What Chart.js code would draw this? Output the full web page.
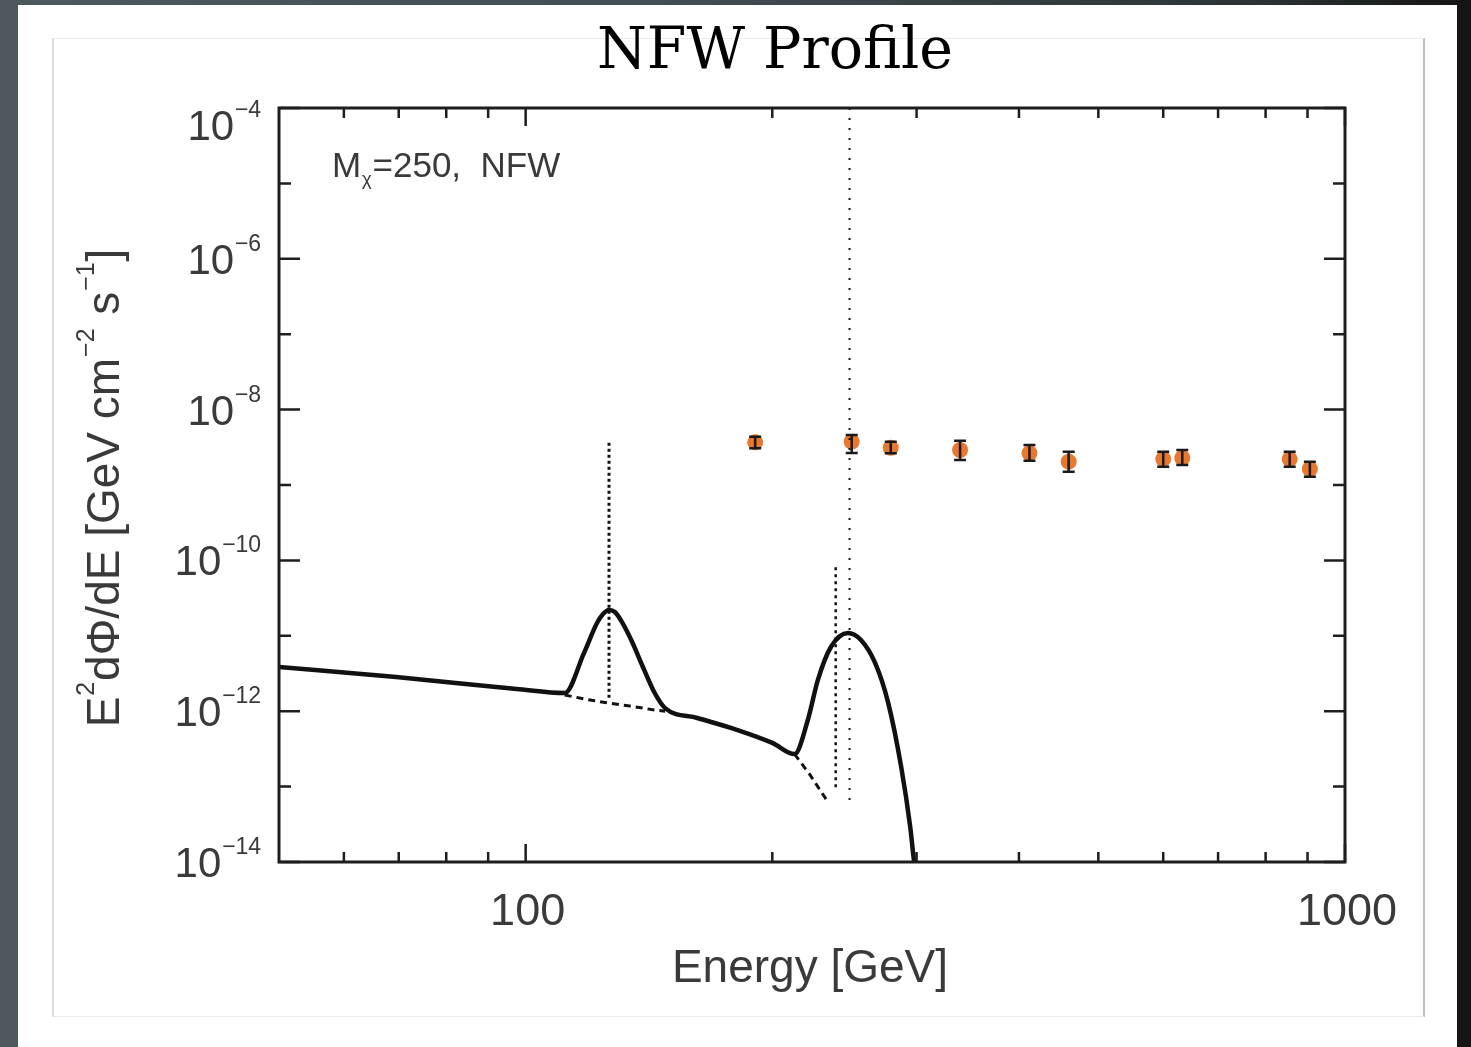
<!DOCTYPE html>
<html>
<head>
<meta charset="utf-8">
<script src="https://cdn.jsdelivr.net/npm/chart.js@4/dist/chart.umd.min.js"></script>
<style>
  html,body{margin:0;padding:0;}
  body{width:1471px;height:1047px;overflow:hidden;position:relative;
       background:linear-gradient(90deg,#4d595d 0%,#434e52 45%,#2d3335 85%,#141414 100%);}
  #panel{position:absolute;left:18px;top:5px;width:1439px;height:1042px;background:#ffffff;}
  #frame{position:absolute;left:52px;top:38px;width:1369px;height:977px;
         border-top:1px solid #ececec;border-bottom:1px solid #ececec;
         border-left:2px solid #dcdcdc;border-right:2px solid #bcbcbc;}
  canvas{position:absolute;left:0;top:0;}
</style>
</head>
<body>
<div id="panel"></div>
<div id="frame"></div>
<canvas id="c" width="1471" height="1047"></canvas>
<script>
// ---------------- data ----------------
const chartTitle = "NFW Profile";
const xRange = [50, 1000];
const yRange = [1e-14, 1e-4];

// total spectrum (solid thick line)
const totalE = [50, 69.5, 97.5, 111.6, 117.8, 122.2, 124.3, 126.4, 128.5, 131.1, 134.9, 138.7, 143.5, 148, 162, 181.4, 200, 212.9, 221.0, 227.3, 235.8, 247.4, 256.6, 267.0, 277.0, 287.3, 294.7, 298.0, 301];
const totalF = [3.86e-12, 2.84e-12, 1.97e-12, 1.74e-12, 5.9e-12, 1.48e-11, 1.95e-11, 2.20e-11, 2.07e-11, 1.52e-11, 8.28e-12, 4.10e-12, 1.80e-12, 1.10e-12, 8.13e-13, 5.62e-13, 3.80e-13, 2.70e-13, 7.64e-13, 2.59e-12, 7.10e-12, 1.09e-11, 8.79e-12, 4.36e-12, 1.29e-12, 1.82e-13, 2.91e-14, 1.0e-14, 6e-15];

// continuum below the line features (dashed)
const cont1E = [111.6, 118, 125.7, 134, 143.5, 148];
const cont1F = [1.64e-12, 1.45e-12, 1.29e-12, 1.17e-12, 1.04e-12, 1.0e-12];
const cont2E = [212.9, 222.4, 233.7];
const cont2F = [2.70e-13, 1.43e-13, 6.3e-14];

// line features (dotted verticals)
const line1E = [126.4, 126.4];
const line1F = [3.63e-9, 1.41e-12];
const line2E = [239, 239];
const line2F = [8.1e-11, 8.9e-14];
const line3E = [248.5, 248.5];
const line3F = [1e-4, 6.3e-14];

// measured points with error bars
const dataE  = [190.6, 250, 279, 339, 412, 460, 600, 633, 856, 906];
const dataF  = [3.68e-9, 3.75e-9, 3.12e-9, 2.91e-9, 2.65e-9, 2.04e-9, 2.21e-9, 2.28e-9, 2.21e-9, 1.63e-9];
const dataHi = [4.37e-9, 4.60e-9, 3.75e-9, 3.87e-9, 3.40e-9, 2.77e-9, 2.77e-9, 2.91e-9, 2.77e-9, 2.04e-9];
const dataLo = [3.07e-9, 2.65e-9, 2.63e-9, 2.15e-9, 2.10e-9, 1.50e-9, 1.75e-9, 1.84e-9, 1.75e-9, 1.29e-9];

// tick values
const yTickExponents = [-4, -6, -8, -10, -12, -14];
const yMinorExponents = [-5, -7, -9, -11, -13];
const xMajorTicks = [100, 1000];
const xMinorTicks = [60, 70, 80, 90, 200, 300, 400, 500, 600, 700, 800, 900];
const xTickLabels = ["100", "1000"];

const xTitle = "Energy [GeV]";
// rich text pieces: [text, mode]  mode 0 normal, 1 superscript, -1 subscript
const yTitleParts = [["E",0],["2",1],["dΦ/dE [GeV cm",0],["−2",1],[" s",0],["−1",1],["]",0]];
const annotParts = [["M",0],["χ",-1],["=250,  NFW",0]];

// ---------------- helpers ----------------
function pts(xs, ys){ return xs.map((x,i)=>({x:x, y:ys[i]})); }

const FONT = "'Liberation Sans', Arimo, Helvetica, Arial, sans-serif";
function richWidth(ctx, parts, size){
  let w = 0;
  for (const [t,m] of parts){
    ctx.font = (m===0? size : Math.round(size*0.55)) + "px " + FONT;
    w += ctx.measureText(t).width + (m!==0 ? size*0.04 : 0);
  }
  return w;
}
function drawRich(ctx, x, y, parts, size, align){
  const w = richWidth(ctx, parts, size);
  let cx = align==='right' ? x - w : align==='center' ? x - w/2 : x;
  ctx.textBaseline = 'alphabetic';
  ctx.textAlign = 'left';
  for (const [t,m] of parts){
    const s = m===0 ? size : Math.round(size*0.55);
    ctx.font = s + "px " + FONT;
    const dy = m===1 ? -size*0.55 : m===-1 ? size*0.22 : 0;
    if (m!==0) cx += size*0.02;
    ctx.fillText(t, cx, y + dy);
    cx += ctx.measureText(t).width + (m!==0 ? size*0.02 : 0);
  }
}

// ---------------- plugins ----------------
const errorBarPlugin = {
  id: 'errbars',
  afterDatasetsDraw(chart){
    const ctx = chart.ctx, xs = chart.scales.x, ys = chart.scales.y;
    ctx.save();
    ctx.strokeStyle = '#1a1a1a';
    ctx.lineWidth = 2.5;
    for (let i=0;i<dataE.length;i++){
      const px = xs.getPixelForValue(dataE[i]);
      const y1 = ys.getPixelForValue(dataHi[i]);
      const y2 = ys.getPixelForValue(dataLo[i]);
      ctx.beginPath();
      ctx.moveTo(px, y1); ctx.lineTo(px, y2);
      ctx.moveTo(px-6, y1); ctx.lineTo(px+6, y1);
      ctx.moveTo(px-6, y2); ctx.lineTo(px+6, y2);
      ctx.stroke();
    }
    ctx.restore();
  }
};

const framePlugin = {
  id: 'frame',
  afterDraw(chart){
    const ctx = chart.ctx, a = chart.chartArea;
    const xs = chart.scales.x, ys = chart.scales.y;
    ctx.save();
    ctx.strokeStyle = '#1e1e1e';
    ctx.lineWidth = 3;
    ctx.strokeRect(a.left, a.top, a.right - a.left, a.bottom - a.top);
    ctx.lineWidth = 2.5;
    ctx.beginPath();
    for (const e of yTickExponents){
      const y = ys.getPixelForValue(Math.pow(10,e));
      ctx.moveTo(a.left, y); ctx.lineTo(a.left+21, y);
      ctx.moveTo(a.right, y); ctx.lineTo(a.right-21, y);
    }
    for (const e of yMinorExponents){
      const y = ys.getPixelForValue(Math.pow(10,e));
      ctx.moveTo(a.left, y); ctx.lineTo(a.left+12, y);
      ctx.moveTo(a.right, y); ctx.lineTo(a.right-12, y);
    }
    for (const v of xMajorTicks){
      const x = xs.getPixelForValue(v);
      ctx.moveTo(x, a.bottom); ctx.lineTo(x, a.bottom-18);
      ctx.moveTo(x, a.top); ctx.lineTo(x, a.top+18);
    }
    for (const v of xMinorTicks){
      const x = xs.getPixelForValue(v);
      ctx.moveTo(x, a.bottom); ctx.lineTo(x, a.bottom-10);
      ctx.moveTo(x, a.top); ctx.lineTo(x, a.top+10);
    }
    ctx.stroke();

    // tick labels
    ctx.fillStyle = '#3a3a3a';
    for (const e of yTickExponents){
      let y = ys.getPixelForValue(Math.pow(10,e));
      y = Math.max(y, a.top + 17);
      drawRich(ctx, 262, y + 15, [["10",0],["−"+Math.abs(e),1]], 42, 'right');
    }
    ctx.font = "45px " + FONT;
    ctx.textAlign = 'center';
    ctx.textBaseline = 'middle';
    xMajorTicks.forEach((v,i)=>{
      ctx.fillText(xTickLabels[i], xs.getPixelForValue(v) + 2, 913);
    });
    // axis titles
    ctx.font = "46px " + FONT;
    ctx.fillText(xTitle, 810, 969);
    ctx.save();
    ctx.translate(119, 488);
    ctx.rotate(-Math.PI/2);
    drawRich(ctx, 0, 0, yTitleParts, 46, 'center');
    ctx.restore();
    // annotation
    drawRich(ctx, 332, 177, annotParts, 35, 'left');
    // title
    ctx.fillStyle = '#000';
    ctx.font = "57px 'DejaVu Serif', 'Liberation Serif', serif";
    ctx.textAlign = 'center';
    ctx.textBaseline = 'alphabetic';
    ctx.fillText(chartTitle, 775, 68);
    ctx.restore();
  }
};

// ---------------- chart ----------------
const black = '#111111';
new Chart(document.getElementById('c').getContext('2d'), {
  type: 'scatter',
  data: {
    datasets: [
      { data: pts(line1E, line1F), showLine: true, borderColor: black, borderWidth: 3, borderDash: [3,3], pointRadius: 0 },
      { data: pts(line2E, line2F), showLine: true, borderColor: black, borderWidth: 2.5, borderDash: [3,4], pointRadius: 0 },
      { data: pts(line3E, line3F), showLine: true, borderColor: black, borderWidth: 2, borderDash: [2,8], pointRadius: 0 },
      { data: pts(cont1E, cont1F), showLine: true, borderColor: black, borderWidth: 3, borderDash: [7,5], pointRadius: 0 },
      { data: pts(cont2E, cont2F), showLine: true, borderColor: black, borderWidth: 3, borderDash: [7,5], pointRadius: 0 },
      { data: pts(totalE, totalF), showLine: true, borderColor: black, borderWidth: 4.5, pointRadius: 0, cubicInterpolationMode: 'monotone' },
      { data: pts(dataE, dataF), showLine: false, pointRadius: 8, pointBackgroundColor: '#e8772f', pointBorderWidth: 0, borderColor: '#e8772f' }
    ]
  },
  options: {
    responsive: false,
    animation: false,
    events: [],
    devicePixelRatio: 1,
    layout: { padding: { left: 279, right: 126, top: 108, bottom: 185 } },
    plugins: { legend: { display: false }, tooltip: { enabled: false }, title: { display: false } },
    scales: {
      x: { type: 'logarithmic', min: xRange[0], max: xRange[1], display: false },
      y: { type: 'logarithmic', min: yRange[0], max: yRange[1], display: false }
    }
  },
  plugins: [errorBarPlugin, framePlugin]
});
</script>
</body>
</html>
